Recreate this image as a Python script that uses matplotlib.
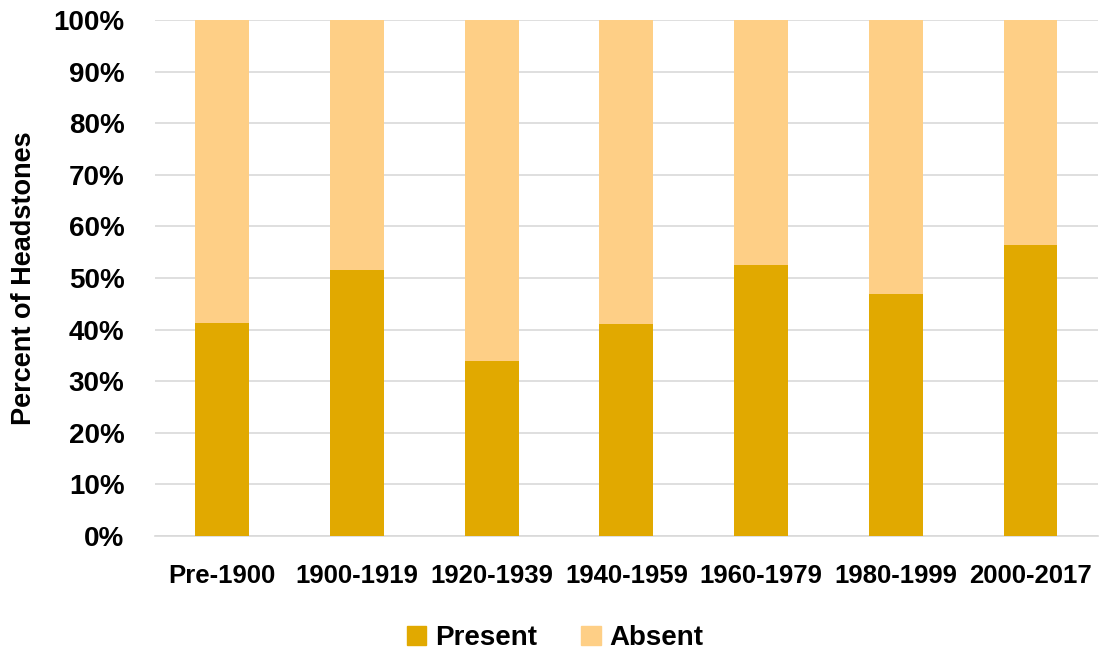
import matplotlib
matplotlib.use("Agg")
import matplotlib.pyplot as plt
from matplotlib.ticker import PercentFormatter
from matplotlib.patches import Patch

categories = ["Pre-1900", "1900-1919", "1920-1939", "1940-1959", "1960-1979", "1980-1999", "2000-2017"]
present = [41.2, 51.6, 33.9, 41.1, 52.6, 46.8, 56.3]
absent = [100 - p for p in present]

plt.rcParams['font.family'] = ['Liberation Sans', 'DejaVu Sans']
plt.rcParams['font.weight'] = 'bold'

fig = plt.figure(figsize=(10.99, 6.55), dpi=100)
ax = fig.add_axes([0.141, 0.1817, 0.858, 0.7878])

c_present = "#E1A900"
c_absent = "#FECF86"
x = list(range(len(categories)))
ax.bar(x, present, width=0.4, color=c_present, zorder=3)
ax.bar(x, absent, bottom=present, width=0.4, color=c_absent, zorder=3)

ax.set_xlim(-0.5, len(categories) - 0.5)
ax.set_ylim(0, 100)
ax.set_yticks(range(0, 101, 10))
ax.yaxis.set_major_formatter(PercentFormatter(decimals=0))
ax.set_xticks(x)
ax.set_xticklabels(categories)
ax.grid(axis='y', color='#D9D9D9', linewidth=1.2, zorder=0)
for s in ['top', 'right', 'left']:
    ax.spines[s].set_visible(False)
ax.spines['bottom'].set_color('#D9D9D9')
ax.spines['bottom'].set_linewidth(1.2)
ax.tick_params(axis='both', length=0)
ax.tick_params(axis='y', labelsize=20, pad=22)
ax.tick_params(axis='x', labelsize=18.5, pad=20)
ax.set_ylabel("Percent of Headstones", fontsize=19.5, fontweight='bold', labelpad=12)

handles = [Patch(color=c_present, label="Present"), Patch(color=c_absent, label="Absent")]
fig.legend(handles=handles, loc='center', bbox_to_anchor=(0.505, 0.026), ncol=2, frameon=False,
           fontsize=20, handlelength=0.7, handleheight=0.7, columnspacing=1.6, handletextpad=0.3)

fig.savefig("out.png", dpi=100)
